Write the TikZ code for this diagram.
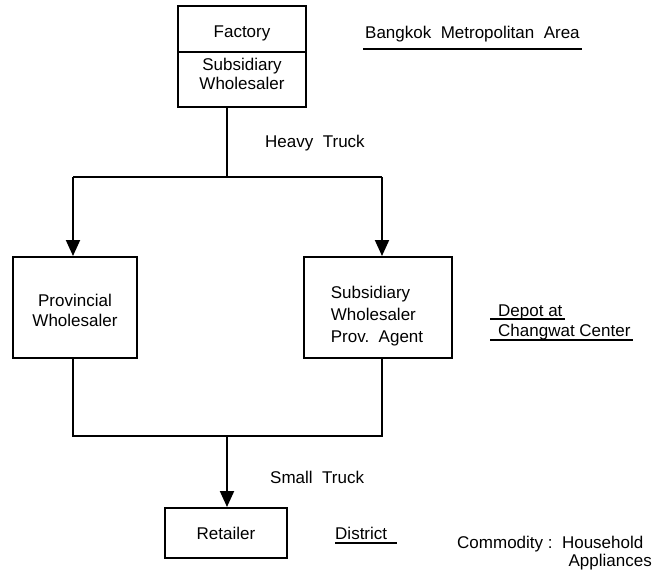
\documentclass[tikz,border=0pt]{standalone}
\usepackage{fontspec}
\setmainfont{Liberation Sans}
\usetikzlibrary{arrows.meta}
\begin{document}
\begin{tikzpicture}[x=1pt,y=-1pt,
  every node/.style={font=\fontsize{17}{20}\selectfont, inner sep=0pt},
  boxnode/.style={draw, line width=2pt, rectangle},
  txt/.style={align=center},
  conn/.style={line width=2pt},
  arr/.style={line width=2pt, -{Triangle[width=14pt,length=16pt]}},
  uline/.style={line width=1.5pt}
]
\useasboundingbox (0,0) rectangle (655,577);

% boxes
\node[boxnode, minimum width=128pt, minimum height=101pt] (top) at (242,56.5) {};
\node[boxnode, minimum width=124pt, minimum height=101pt] (pw) at (75,307.5) {};
\node[boxnode, minimum width=148pt, minimum height=101pt] (sw) at (378,307.5) {};
\node[boxnode, minimum width=122pt, minimum height=50pt] (ret) at (226,533) {};

% divider of top box
\coordinate (dv) at (0,52);
\draw[conn] (top.west |- dv) -- (top.east |- dv);

% box texts
\node[anchor=base] (fac) at (242,38) {Factory};
\node[txt, font=\fontsize{17}{19}\selectfont] (subw) at (242,74) {Subsidiary\\Wholesaler};
\node[txt] (pwt) at (75,310) {Provincial\\Wholesaler};
\node[align=left, font=\fontsize{17}{22}\selectfont] (swt) at (377,316.5) {Subsidiary\\Wholesaler\\Prov.~~Agent};
\node[anchor=base] (rett) at (226,539) {Retailer};

% connectors
\coordinate (hm) at (227,177);
\coordinate (hl) at (73,177);
\coordinate (hr) at (382,177);
\draw[conn] (hm |- top.south) -- (hm);
\draw[conn] (hl) -- (hr);
\draw[arr] (hl) -- (hl |- pw.north);
\draw[arr] (hr) -- (hr |- sw.north);

\coordinate (bm) at (227,436);
\coordinate (bl) at (73,436);
\coordinate (br) at (382,436);
\draw[conn] (bl |- pw.south) -- (bl) -- (br) -- (br |- sw.south);
\draw[arr] (bm) -- (bm |- ret.north);

% labels
\node[anchor=base west] (heavy) at (265,148) {Heavy~~Truck};
\node[anchor=base west] (small) at (270,483) {Small~~Truck};

\node[anchor=base west] (bma) at (365,39) {Bangkok~~Metropolitan~~Area};
\draw[uline] ([shift={(-2,10)}]bma.base west) -- ([shift={(2,10)}]bma.base east);

\node[anchor=base west] (depot) at (498,316) {Depot at};
\draw[uline] ([shift={(-8,3)}]depot.base west) -- ([shift={(2,3)}]depot.base east);
\node[anchor=base west] (chw) at (498,336) {Changwat Center};
\draw[uline] ([shift={(-8,4)}]chw.base west) -- ([shift={(2,4)}]chw.base east);

\node[anchor=base west] (dist) at (335,539) {District};
\draw[uline] ([shift={(0,4)}]dist.base west) -- ([shift={(10,4)}]dist.base east);

\node[anchor=base west] (comm) at (457,548) {Commodity~:~~Household};
\node[anchor=base east] (appl) at (652,566) {Appliances};
\end{tikzpicture}
\end{document}
